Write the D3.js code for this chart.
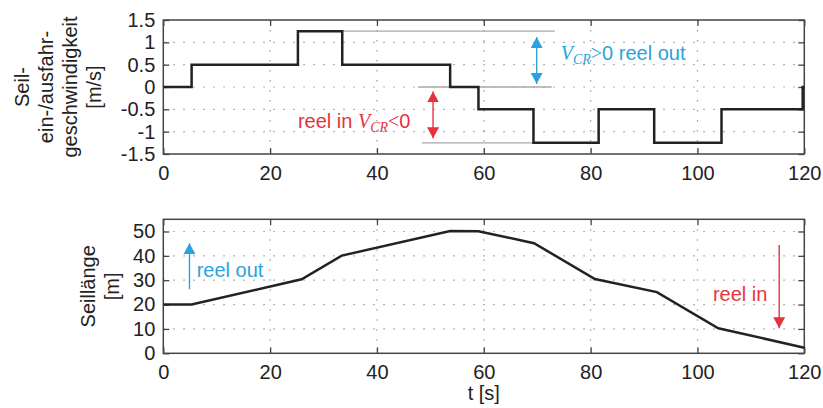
<!DOCTYPE html>
<html>
<head>
<meta charset="utf-8">
<script src="https://cdn.jsdelivr.net/npm/d3@7"></script>
<style>
body { margin: 0; background: #fff; }
svg text { font-family: "Liberation Sans", Arial, sans-serif; fill: #222; }
</style>
</head>
<body>
<div class="chart"></div>
<script>
const timeTicks = [0, 20, 40, 60, 80, 100, 120]
const speedTicks = [-1.5, -1, -0.5, 0, 0.5, 1, 1.5]
const lengthTicks = [0, 10, 20, 30, 40, 50]

const stepTimes = [0, 5.3, 25.2, 33.5, 53.7, 59.0, 69.3, 81.5, 91.9, 104.5, 119.7, 120]
const speedValues = [0, 0.5, 1.25, 0.5, 0, -0.5, -1.25, -0.5, -1.25, -0.5, 0, 0]

const lengthTimes = [0, 5.3, 25.9, 33.4, 53.7, 59.0, 69.4, 80.8, 92.4, 103.9, 120]
const lengthValues = [20, 20, 30.4, 40.1, 50.2, 50.1, 45.2, 30.5, 25.1, 10.3, 2.3]

const speedLabel = ["Seil-", "ein-/ausfahr-", "geschwindigkeit", "[m/s]"]
const lengthLabel = ["Seillänge", "[m]"]
const timeLabel = "t [s]"

// grey helper lines: [t from, t to, value]
const speedRefLines = [[33.5, 73.3, 1.25], [47.7, 72.7, 0], [48.4, 69.3, -1.25]]
// arrows: [t, value from, value to, double headed]
const speedArrows = [[69.9, 0.07, 1.12, true, 'blue'], [50.5, -0.1, -1.15, true, 'red']]
const lengthArrows = [[4.9, 26.3, 45.2, false, 'blue'], [115.3, 44.5, 10.3, false, 'red']]
// notes: [t, value, text, anchor, colour]
const speedNotes = [[74.4, 0.605, "V_CR>0 reel out", 'start', 'blue'], [25.2, -0.924, "reel in V_CR<0", 'start', 'red']]
const lengthNotes = [[6.25, 31.5, "reel out", 'start', 'blue'], [113.1, 21.6, "reel in", 'end', 'red']]

const colors = {blue: '#2aa3dc', red: '#e6323c'}

const W = 823, H = 408
const svg = d3.select('.chart').append('svg').attr('width', W).attr('height', H)

const defs = svg.append('defs')
Object.keys(colors).forEach(k => {
    defs.append('marker')
    .attr('id', 'head-' + k)
    .attr('markerUnits', 'userSpaceOnUse')
    .attr('markerWidth', 12).attr('markerHeight', 12)
    .attr('refX', 11).attr('refY', 6)
    .attr('orient', 'auto-start-reverse')
    .append('path')
    .attr('d', 'M0,0 L11,6 L0,12 Z')
    .attr('fill', colors[k])
})

const x = d3.scaleLinear().domain([0, 120]).range([163.3, 804.3])

const appendNote = (sel, str) => {
    const parts = str.split('V_CR')
    parts.forEach((p, i) => {
        if (i > 0) {
            sel.append('tspan').attr('font-family', '"Liberation Serif", serif').attr('font-style', 'italic').text('V')
            sel.append('tspan').attr('font-family', '"Liberation Serif", serif').attr('font-style', 'italic')
            .attr('font-size', 14).attr('dy', 4).text('CR')
        }
        let s = p
        if (s[0] === '>' || s[0] === '<') {
            sel.append('tspan').attr('font-family', '"Liberation Serif", serif').attr('dy', i > 0 ? -4 : 0).text(s[0])
            s = s.slice(1)
            sel.append('tspan').text(s)
        } else {
            sel.append('tspan').text(s)
        }
    })
}

const drawPanel = (p) => {
    const y = d3.scaleLinear().domain(p.yDomain).range([p.bottom, p.top])
    const g = svg.append('g')

    // dotted grid
    g.append('g').selectAll('line')
    .data(timeTicks.slice(1, -1))
    .enter().append('line')
    .attr('x1', d => x(d)).attr('x2', d => x(d))
    .attr('y1', p.top).attr('y2', p.bottom)
    .attr('stroke', '#9a9a9a').attr('stroke-width', 1.2).attr('stroke-dasharray', '1.5,8.5')

    g.append('g').selectAll('line')
    .data(p.yTicks.filter(d => y(d) > p.top + 1 && y(d) < p.bottom - 1))
    .enter().append('line')
    .attr('x1', x.range()[0]).attr('x2', x.range()[1])
    .attr('y1', d => y(d)).attr('y2', d => y(d))
    .attr('stroke', '#9a9a9a').attr('stroke-width', 1.2).attr('stroke-dasharray', '1.5,8.5')

    const styleAxis = (a) => {
        a.select('.domain').remove()
        a.selectAll('.tick line').attr('stroke', '#444').attr('stroke-width', 1.3)
        a.selectAll('.tick text').attr('font-size', 20).attr('fill', '#222')
    }

    g.append('g').attr('transform', `translate(0,${p.bottom})`)
    .call(d3.axisBottom(x).tickValues(timeTicks).tickSizeInner(-6).tickSizeOuter(0).tickPadding(12).tickFormat(d => String(d)))
    .call(styleAxis)
    g.append('g').attr('transform', `translate(0,${p.top})`)
    .call(d3.axisTop(x).tickValues(timeTicks).tickSizeInner(-6).tickSizeOuter(0).tickFormat(''))
    .call(styleAxis)
    g.append('g').attr('transform', `translate(${x.range()[0]},0)`)
    .call(d3.axisLeft(y).tickValues(p.yTicks).tickSizeInner(-6).tickSizeOuter(0).tickPadding(8).tickFormat(d => String(d)))
    .call(styleAxis)
    g.append('g').attr('transform', `translate(${x.range()[1]},0)`)
    .call(d3.axisRight(y).tickValues(p.yTicks).tickSizeInner(-6).tickSizeOuter(0).tickFormat(''))
    .call(styleAxis)

    g.append('rect')
    .attr('x', x.range()[0]).attr('y', p.top)
    .attr('width', x.range()[1] - x.range()[0]).attr('height', p.bottom - p.top)
    .attr('fill', 'none').attr('stroke', '#444').attr('stroke-width', 1.5)

    g.selectAll('.ref')
    .data(p.refLines)
    .enter().append('line')
    .attr('x1', d => x(d[0])).attr('x2', d => x(d[1]))
    .attr('y1', d => y(d[2])).attr('y2', d => y(d[2]))
    .attr('stroke', '#a8a8a8').attr('stroke-width', 1.3)

    const line = d3.line()
    .x(d => x(d[0]))
    .y(d => y(d[1]))
    .curve(p.curve)

    g.append('path')
    .attr('d', line(d3.zip(p.times, p.values)))
    .attr('fill', 'none').attr('stroke', '#222').attr('stroke-width', 2.5)
    .attr('stroke-linejoin', 'miter')

    g.selectAll('.arrow')
    .data(p.arrows)
    .enter().append('line')
    .attr('x1', d => x(d[0])).attr('x2', d => x(d[0]))
    .attr('y1', d => y(d[1])).attr('y2', d => y(d[2]))
    .attr('stroke', d => colors[d[4]]).attr('stroke-width', 1.4)
    .attr('marker-end', d => `url(#head-${d[4]})`)
    .attr('marker-start', d => d[3] ? `url(#head-${d[4]})` : null)

    p.notes.forEach(n => {
        const t = g.append('text')
        .attr('x', x(n[0])).attr('y', y(n[1]))
        .attr('text-anchor', n[3])
        .attr('font-size', 20)
        .style('fill', colors[n[4]])
        appendNote(t, n[2])
        t.selectAll('tspan').style('fill', colors[n[4]])
    })

    const mid = (p.top + p.bottom) / 2
    p.label.forEach((s, i) => {
        g.append('text')
        .attr('transform', `translate(${p.labelX + i * 24},${mid}) rotate(-90)`)
        .attr('text-anchor', 'middle')
        .attr('font-size', 20)
        .text(s)
    })
}

drawPanel({top: 20, bottom: 154, yDomain: [-1.5, 1.5], yTicks: speedTicks,
    times: stepTimes, values: speedValues, curve: d3.curveStepAfter,
    refLines: speedRefLines, arrows: speedArrows, notes: speedNotes,
    label: speedLabel, labelX: 29})

drawPanel({top: 219.3, bottom: 353.3, yDomain: [0, 55], yTicks: lengthTicks,
    times: lengthTimes, values: lengthValues, curve: d3.curveLinear,
    refLines: [], arrows: lengthArrows, notes: lengthNotes,
    label: lengthLabel, labelX: 95})

svg.append('text')
.attr('x', x(60)).attr('y', 400)
.attr('text-anchor', 'middle')
.attr('font-size', 20)
.text(timeLabel)
</script>
</body>
</html>
